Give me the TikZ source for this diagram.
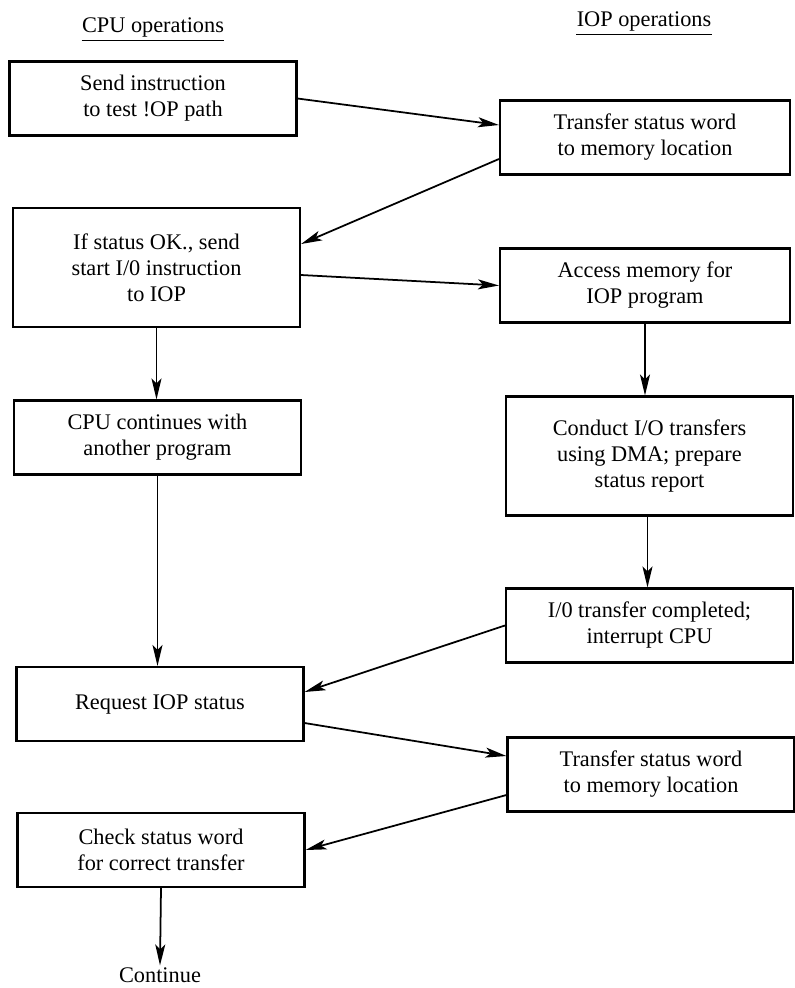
\documentclass[tikz,border=0pt]{standalone}
\usepackage{fontspec}
\setmainfont{Liberation Serif}
\usetikzlibrary{arrows.meta,positioning,calc}
\newcommand{\flowfont}{\fontsize{12.7pt}{14.8pt}\selectfont}
\tikzset{
  flow/box/.style={draw, line width=1.2pt, minimum width=57.4mm, minimum height=14.8mm, align=center, inner sep=2pt, font=\flowfont},
  flow/tallbox/.style={flow/box, minimum height=23.8mm},
  flow/arrow/.style={line width=1pt, -{Stealth[length=4.2mm, width=2mm, inset=1mm]}},
  flow/head/.style={inner xsep=0pt, inner ysep=2pt, font=\flowfont},
  flow/label/.style={inner sep=1pt, font=\flowfont}
}

\begin{document}
\begin{tikzpicture}[x=0.2mm, y=-0.2mm]
  \useasboundingbox (0,0) rectangle (795,988);

  % column headings
  \node[flow/head] (cpuhd) at (153,27) {CPU operations};
  \node[flow/head] (iophd) at (644,21) {IOP operations};
  \draw[line width=0.8pt] (cpuhd.south west) -- (cpuhd.south east);
  \draw[line width=0.8pt] (iophd.south west) -- (iophd.south east);

  % CPU side
  \node[flow/box] (send) at (153,98.5) {Send instruction\\to test !OP path};
  \node[flow/tallbox] (startio) at (156.5,267.5) {If status OK., send\\start I/0 instruction\\to IOP};
  \node[flow/box] (cont) at (157.5,437.5) {CPU continues with\\another program};
  \node[flow/box] (request) at (160,704) {Request IOP status};
  \node[flow/box] (check) at (161,850) {Check status word\\for correct transfer};
  \node[flow/label] (continue) at (160,975) {Continue};

  % IOP side
  \node[flow/box, minimum width=58mm] (xferA) at (645,137.5) {Transfer status word\\to memory location};
  \node[flow/box, minimum width=58mm] (access) at (645,285.5) {Access memory for\\IOP program};
  \node[flow/tallbox] (conduct) at (649.5,456) {Conduct I/O transfers\\using DMA; prepare\\status report};
  \node[flow/box] (done) at (649.5,625.5) {I/0 transfer completed;\\interrupt CPU};
  \node[flow/box] (xferB) at (651,774.5) {Transfer status word\\to memory location};

  % between the columns
  \draw[flow/arrow] (send.east) -- ([yshift=2.5mm]xferA.west);
  \draw[flow/arrow] ([yshift=-4.3mm]xferA.west) -- ([yshift=4.7mm]startio.east);
  \draw[flow/arrow] ([yshift=-1.5mm]startio.east) -- (access.west);
  \draw[flow/arrow] (done.west) -- ([yshift=2.4mm]request.east);
  \draw[flow/arrow] ([yshift=-3.8mm]request.east) -- ([yshift=3.7mm]xferB.west);
  \draw[flow/arrow] ([yshift=-4.1mm]xferB.west) -- (check.east);

  % down each column
  \draw[flow/arrow] (startio.south) -- (startio.south |- cont.north);
  \draw[flow/arrow] (cont.south) -- (cont.south |- request.north);
  \draw[flow/arrow] (check.south) -- (continue.north);
  \draw[flow/arrow] (access.south) -- (access.south |- conduct.north);
  \draw[flow/arrow] ([xshift=-0.4mm]conduct.south) -- ([xshift=-0.4mm]done.north);
\end{tikzpicture}
\end{document}
